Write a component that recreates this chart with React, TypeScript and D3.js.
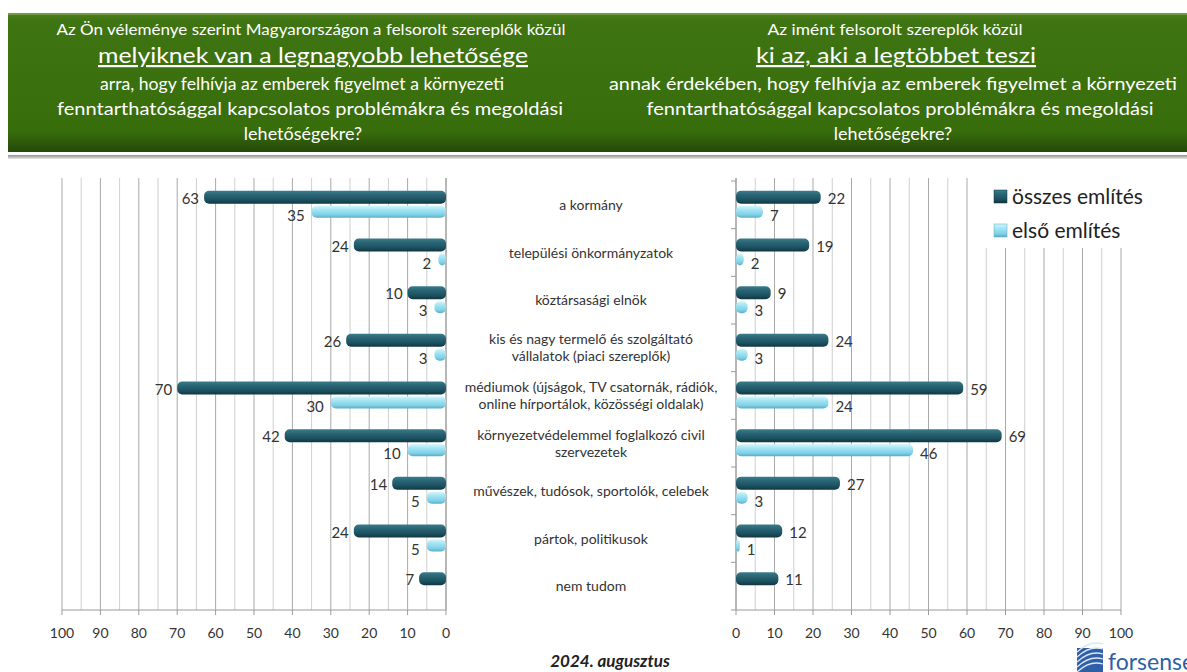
import React from "react";
import * as d3 from "d3";

const categories: string[][] = [
  ["a kormány"],
  ["települési önkormányzatok"],
  ["köztársasági elnök"],
  ["kis és nagy termelő és szolgáltató", "vállalatok (piaci szereplők)"],
  ["médiumok (újságok, TV csatornák, rádiók,", "online hírportálok, közösségi oldalak)"],
  ["környezetvédelemmel foglalkozó civil", "szervezetek"],
  ["művészek, tudósok, sportolók, celebek"],
  ["pártok, politikusok"],
  ["nem tudom"],
];
const leftAll: (number | null)[] = [63, 24, 10, 26, 70, 42, 14, 24, 7];
const leftFirst: (number | null)[] = [35, 2, 3, 3, 30, 10, 5, 5, null];
const rightAll: (number | null)[] = [22, 19, 9, 24, 59, 69, 27, 12, 11];
const rightFirst: (number | null)[] = [7, 2, 3, 3, 24, 46, 3, 1, null];
const ticks: number[] = [0, 10, 20, 30, 40, 50, 60, 70, 80, 90, 100];
const legendLabels = ["összes említés", "első említés"];
const leftTitle = [
  "Az Ön véleménye szerint Magyarországon a felsorolt szereplők közül",
  "melyiknek van a legnagyobb lehetősége",
  "arra, hogy felhívja az emberek figyelmet a környezeti",
  "fenntarthatósággal kapcsolatos problémákra és megoldási",
  "lehetőségekre?",
];
const rightTitle = [
  "Az imént felsorolt szereplők közül",
  "ki az, aki a legtöbbet teszi",
  "annak érdekében, hogy felhívja az emberek figyelmet a környezeti",
  "fenntarthatósággal kapcsolatos problémákra és megoldási",
  "lehetőségekre?",
];
const dateLabel = "2024. augusztus";

const FONT = "Lato, 'Open Sans', sans-serif";

export default function App() {
  const W = 1187, H = 672;
  const top = 181, bottom = 610;
  const xL = d3.scaleLinear().domain([0, 100]).range([446, 62]);
  const xR = d3.scaleLinear().domain([0, 100]).range([736, 1121]);
  const y = d3.scaleBand<number>().domain(d3.range(categories.length)).range([top, bottom]).padding(0);
  const bw = y.bandwidth();
  const grid = d3.range(0, 101, 5);

  const lineY = [35, 63, 90, 115, 140];
  const lineSize = [15, 22, 18, 18, 18];
  const titleBlock = (lines: string[], centers: number[], widths: (number | null)[]) => (
    <g fill="#ffffff" textAnchor="middle" fontFamily={FONT}>
      {lines.map((ln, i) => (
        <text key={i} x={centers[i]} y={lineY[i]} fontSize={lineSize[i]}
          textLength={widths[i] ?? undefined} lengthAdjust={widths[i] ? "spacingAndGlyphs" : undefined}
          textDecoration={i === 1 ? "underline" : undefined}>{ln}</text>
      ))}
    </g>
  );

  const gridLines = (sc: d3.ScaleLinear<number, number>, key: string) => (
    <g key={key}>
      {grid.map((v) => (
        <line key={v} x1={sc(v)} x2={sc(v)} y1={178} y2={bottom}
          stroke={v % 10 === 0 ? "#a9a9a9" : "#cfcfcf"} strokeWidth={1} />
      ))}
      <line x1={sc(0)} x2={sc(100)} y1={bottom} y2={bottom} stroke="#9a9a9a" />
      {ticks.map((t) => (
        <g key={t}>
          <line x1={sc(t)} x2={sc(t)} y1={bottom} y2={bottom + 5} stroke="#9a9a9a" />
          <text x={sc(t)} y={638} textAnchor="middle" fontSize={14} fill="#333" fontFamily={FONT}>{t}</text>
        </g>
      ))}
    </g>
  );

  const bars = (sc: d3.ScaleLinear<number, number>, all: (number | null)[], first: (number | null)[], side: "L" | "R") => (
    <g>
      {categories.map((_, i) => {
        const c = (y(i) as number) + bw / 2;
        const out: React.ReactNode[] = [];
        const a = all[i];
        const f = first[i];
        if (a != null) {
          const x0 = Math.min(sc(0), sc(a));
          const w = Math.abs(sc(a) - sc(0));
          out.push(<rect key="a" x={x0} y={c - 14} width={w} height={13} rx={5} ry={5} fill="url(#gDark)" />);
          out.push(
            <text key="at" x={side === "L" ? sc(a) - 5 : sc(a) + 7} y={c - 1}
              textAnchor={side === "L" ? "end" : "start"} fontSize={15} fill="#333" fontFamily={FONT}>{a}</text>
          );
        }
        if (f != null) {
          const x0 = Math.min(sc(0), sc(f));
          const w = Math.abs(sc(f) - sc(0));
          out.push(<rect key="f" x={x0} y={c + 1} width={w} height={12} rx={5} ry={5} fill="url(#gLight)" />);
          out.push(
            <text key="ft" x={side === "L" ? sc(f) - 7 : sc(f) + 7} y={c + 16}
              textAnchor={side === "L" ? "end" : "start"} fontSize={15} fill="#333" fontFamily={FONT}>{f}</text>
          );
        }
        return <g key={i}>{out}</g>;
      })}
    </g>
  );

  return (
    <svg width={W} height={H} style={{ position: "absolute", left: 0, top: 0, background: "#fff" }}>
      <defs>
        <linearGradient id="gGreen" x1="0" y1="0" x2="0" y2="1">
          <stop offset="0" stopColor="#4b7f1c" />
          <stop offset="0.06" stopColor="#3f7412" />
          <stop offset="0.85" stopColor="#386d0b" />
          <stop offset="1" stopColor="#24480a" />
        </linearGradient>
        <linearGradient id="gDark" x1="0" y1="0" x2="0" y2="1">
          <stop offset="0" stopColor="#3b7c8c" />
          <stop offset="0.3" stopColor="#2a6676" />
          <stop offset="0.7" stopColor="#1c5160" />
          <stop offset="1" stopColor="#0f3641" />
        </linearGradient>
        <linearGradient id="gLight" x1="0" y1="0" x2="0" y2="1">
          <stop offset="0" stopColor="#d2f5fc" />
          <stop offset="0.35" stopColor="#a2e4f3" />
          <stop offset="0.75" stopColor="#7fd0e6" />
          <stop offset="1" stopColor="#58adc4" />
        </linearGradient>
        <linearGradient id="gGray" x1="0" y1="0" x2="0" y2="1">
          <stop offset="0" stopColor="#8f8f8f" />
          <stop offset="1" stopColor="#e6e6e6" />
        </linearGradient>
      </defs>

      {/* header */}
      <rect x={8} y={13} width={W - 8} height={139} fill="url(#gGreen)" />
      <rect x={8} y={13} width={W - 8} height={2} fill="#6f9c44" />
      <rect x={8} y={155} width={W - 8} height={4} fill="url(#gGray)" />
      {titleBlock(leftTitle, [311, 313, 302, 310, 303], [509, 430, 404, 506, null])}
      {titleBlock(rightTitle, [895, 896, 893, 900, 893], [255, 280, 568, 507, null])}

      {/* grids and axes */}
      {gridLines(xL, "L")}
      {gridLines(xR, "R")}
      <line x1={446} x2={446} y1={178} y2={bottom} stroke="#9a9a9a" />
      <line x1={736} x2={736} y1={178} y2={bottom} stroke="#9a9a9a" />
      {d3.range(categories.length + 1).map((i) => {
        const yy = top + i * bw;
        return <line key={i} x1={731} x2={736} y1={yy} y2={yy} stroke="#9a9a9a" />;
      })}

      {/* legend box */}
      <rect x={984} y={172} width={W - 984} height={76} fill="#fff" />

      {bars(xL, leftAll, leftFirst, "L")}
      {bars(xR, rightAll, rightFirst, "R")}

      {/* category labels */}
      <g fontFamily={FONT} fontSize={14} fill="#333" textAnchor="middle">
        {categories.map((lines, i) => {
          const c = (y(i) as number) + bw / 2;
          const n = lines.length;
          return lines.map((ln, j) => (
            <text key={i + "-" + j} x={591} y={c + 5 + (j - (n - 1) / 2) * 17}>{ln}</text>
          ));
        })}
      </g>

      {/* legend */}
      <g fontFamily={FONT} fontSize={21} fill="#222">
        <rect x={994} y={190} width={13} height={13} fill="url(#gDark)" stroke="#0f3641" strokeWidth={0.5} />
        <text x={1012} y={204}>{legendLabels[0]}</text>
        <rect x={994} y={224} width={13} height={13} fill="url(#gLight)" stroke="#58adc4" strokeWidth={0.5} />
        <text x={1012} y={238}>{legendLabels[1]}</text>
      </g>

      {/* date */}
      <text x={610} y={667} textAnchor="middle" fontFamily={FONT} fontStyle="italic" fontWeight="bold" fontSize={17} fill="#222">{dateLabel}</text>

      {/* logo */}
      <g>
        <rect x={1077} y={648} width={26} height={26} fill="#2f5fa6" />
        {d3.range(5).map((k) => (
          <path key={k} d={`M${1077} ${672 - k * 5} Q ${1090} ${660 - k * 5} ${1103} ${664 - k * 5}`} stroke="#dbe7f6" strokeWidth={1.3} fill="none" />
        ))}
        <text x={1108} y={670} fontFamily={FONT} fontSize={23} fill="#2f5fa6">forsense</text>
      </g>
    </svg>
  );
}
